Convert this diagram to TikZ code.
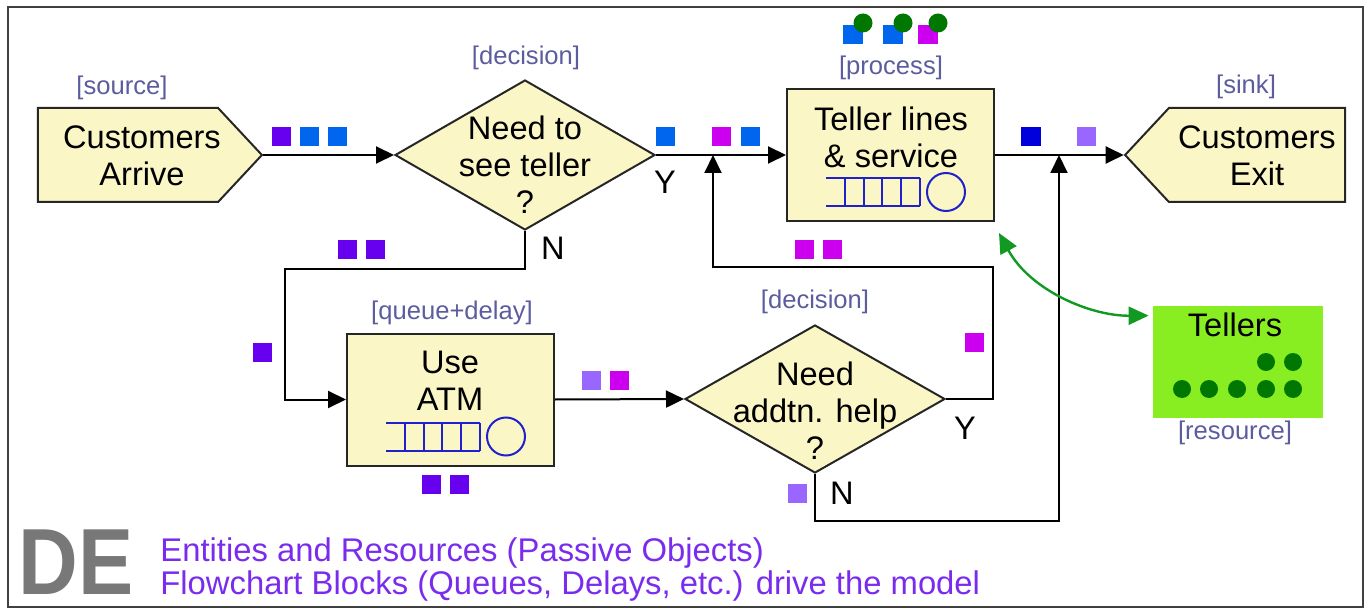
\documentclass[tikz,border=0pt]{standalone}
\usepackage{fontspec}
\setmainfont{Liberation Sans}
\usetikzlibrary{shapes.geometric,shapes.symbols,arrows.meta,calc}
\definecolor{blockfill}{HTML}{FAF6C6}
\definecolor{tagcol}{HTML}{5C5C9E}
\definecolor{entpurple}{HTML}{6600EE}
\definecolor{entblue}{HTML}{0066EE}
\definecolor{entmagenta}{HTML}{CC00EE}
\definecolor{entdark}{HTML}{0000DD}
\definecolor{entlav}{HTML}{9966FF}
\definecolor{resgreen}{HTML}{007700}
\definecolor{resfill}{HTML}{88EE22}
\definecolor{linkgreen}{HTML}{119922}
\definecolor{notecol}{HTML}{7A2CEE}
\definecolor{qblue}{HTML}{2020CC}
\begin{document}
\begin{tikzpicture}[x=0.5pt,y=-0.5pt,
  every node/.style={inner sep=0pt},
  block/.style={draw=black!85, line width=1pt, fill=blockfill},
  srcsink/.style={block, signal, signal pointer angle=94, minimum width=112pt, minimum height=47pt},
  decide/.style={block, diamond, minimum width=130pt, minimum height=75pt},
  task/.style={block, rectangle, minimum width=103.5pt, minimum height=66pt},
  txt/.style={font=\fontsize{16.3}{18.5}\selectfont, align=center},
  tag/.style={font=\fontsize{12.8}{14}\selectfont, text=tagcol},
  flow/.style={line width=1pt, -{Triangle[length=9pt,width=8.5pt]}},
  ent/.style={fill=#1},
  qicon/.pic={
    \draw[qblue, line width=1pt] (40,90) -- (134,90) (40,118) -- (134,118);
    \foreach \qx in {59,78,96,115,134} \draw[qblue, line width=1pt] (\qx,90) -- (\qx,118);
    \draw[qblue, line width=1pt] (160,104) circle[radius=19];
  }
]
\useasboundingbox (0,0) rectangle (1367,610);
\draw[black!75, line width=0.8pt] (8,7) rectangle (1363,607);

\node[srcsink, signal to=east] (src) at (128,155) {};
\node[txt] (srcT) at (142,156) {Customers\\Arrive};
\node[tag] (srcTag) at (122,88) {[source]};

\node[decide] (dec1) at (525,155) {};
\node[txt] (dec1T) at (525,165) {Need to\\see teller\\?};
\node[tag] (dec1Tag) at (526,58) {[decision]};

\node[task] (proc) at (890.5,155) {};
\node[txt] (procT) at (891,137) {Teller lines\\\& service};
\pic at (proc.north west) {qicon};
\node[tag] (procTag) at (891,68) {[process]};

\node[srcsink, signal to=west, minimum width=110pt] (sink) at (1257,155) {};
\node[txt] (sinkT) at (1257,156) {Customers\\Exit};
\node[tag] (sinkTag) at (1246,87) {[sink]};

\node[task] (atm) at (450.5,399.5) {};
\node[txt] (atmT) at (450,381) {Use\\ATM};
\pic at (atm.north west) {qicon};
\node[tag] (atmTag) at (452,313) {[queue+delay]};

\node[decide, minimum height=74pt] (dec2) at (815,399) {};
\node[txt] (dec2T) at (815,411) {Need\\addtn. help\\?};
\node[tag] (dec2Tag) at (815,302) {[decision]};

\node[fill=resfill, minimum width=85pt, minimum height=56pt] (tellers) at (1238,362) {};
\node[txt] (tellT) at (1235,325) {Tellers};
\node[tag] (tellTag) at (1235,433) {[resource]};
\foreach \dx in {1182,1209,1237,1266,1293} \fill[resgreen] (\dx,389) circle[radius=9];
\foreach \dx in {1266,1293} \fill[resgreen] (\dx,362) circle[radius=9];

\coordinate (joinY) at (713,155);
\coordinate (joinN) at (1059,155);

\draw[flow] (src.east) -- (dec1.west);
\draw[flow] (dec1.east) -- (proc.west);
\draw[flow] (proc.east) -- (sink.west);
\draw[flow] (dec1.south) -- ++(0,38) -- ++(-240,0) |- (atm.west);
\draw[flow] (atm.east) -- (dec2.west);
\draw[flow] (dec2.east) -- ++(47,0) -- ++(0,-132) -| (joinY);
\draw[flow] (dec2.south) -- ++(0,47) -| (joinN);
\draw[linkgreen, line width=1.2pt, {Triangle[length=10pt,width=9pt]}-{Triangle[length=10pt,width=9pt]}]
  ($(proc.south east)+(4,11)$) .. controls (1030,290) and (1090,316) .. ($(tellers.north west)+(-4,10)$);

\node[txt] (y1) at (665,182) {Y};
\node[txt] (n1) at (553,248) {N};
\node[txt] (y2) at (965,428) {Y};
\node[txt] (n2) at (842,493) {N};

\fill[ent=entpurple] (272,127) rectangle ++(19,19);
\fill[ent=entblue] (300,127) rectangle ++(19,19);
\fill[ent=entblue] (328,127) rectangle ++(19,19);
\fill[ent=entblue] (656,127) rectangle ++(19,19);
\fill[ent=entmagenta] (712,127) rectangle ++(19,19);
\fill[ent=entblue] (741,127) rectangle ++(19,19);
\fill[ent=entdark] (1021,127) rectangle ++(20,19);
\fill[ent=entlav] (1077,127) rectangle ++(19,19);
\fill[ent=entpurple] (338,240) rectangle ++(19,19);
\fill[ent=entpurple] (366,240) rectangle ++(19,19);
\fill[ent=entpurple] (253,343) rectangle ++(19,19);
\fill[ent=entpurple] (422,475) rectangle ++(19,19);
\fill[ent=entpurple] (450,475) rectangle ++(19,19);
\fill[ent=entlav] (582,371) rectangle ++(19,19);
\fill[ent=entmagenta] (610,371) rectangle ++(19,19);
\fill[ent=entmagenta] (795,240) rectangle ++(19,19);
\fill[ent=entmagenta] (823,240) rectangle ++(19,19);
\fill[ent=entmagenta] (965,333) rectangle ++(19,19);
\fill[ent=entlav] (788,484) rectangle ++(19,19);
\foreach \ex/\ec in {843/entblue,883/entblue,918/entmagenta} {
  \fill[ent=\ec] (\ex,25) rectangle ++(20,19);
  \fill[resgreen] (\ex+20,23) circle[radius=9.5];
}

\node[anchor=west, xscale=0.88, font=\fontsize{47}{47}\bfseries\selectfont, text=black!53] (de) at (18,562) {DE};
\node[anchor=base west, font=\fontsize{16.4}{16.5}\selectfont, text=notecol] (note1) at (160,561) {Entities and Resources (Passive Objects)};
\node[anchor=base west, font=\fontsize{16.4}{16.5}\selectfont, text=notecol] (note2) at (160,594) {Flowchart Blocks (Queues, Delays, etc.) drive the model};
\end{tikzpicture}
\end{document}
